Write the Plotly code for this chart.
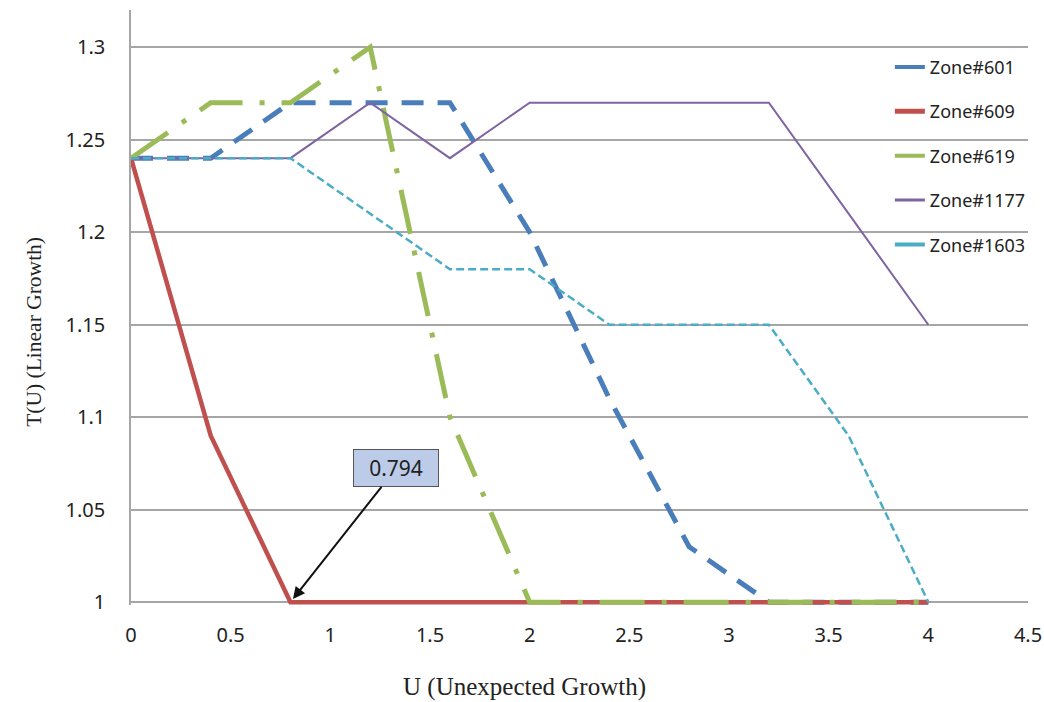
import plotly.graph_objects as go

# ---------------- data ----------------
u = [0, 0.4, 0.8, 1.2, 1.6, 2.0, 2.4, 2.8, 3.2, 3.6, 4.0]
zone601 = [1.24, 1.24, 1.27, 1.27, 1.27, 1.20, 1.11, 1.03, 1.00, 1.00, 1.00]
zone609 = [1.24, 1.09, 1.00, 1.00, 1.00, 1.00, 1.00, 1.00, 1.00, 1.00, 1.00]
zone619 = [1.24, 1.27, 1.27, 1.30, 1.10, 1.00, 1.00, 1.00, 1.00, 1.00, 1.00]
zone1177 = [1.24, 1.24, 1.24, 1.27, 1.24, 1.27, 1.27, 1.27, 1.27, 1.21, 1.15]
zone1603 = [1.24, 1.24, 1.24, 1.21, 1.18, 1.18, 1.15, 1.15, 1.15, 1.09, 1.00]

series_names = ["Zone#601", "Zone#609", "Zone#619", "Zone#1177", "Zone#1603"]
series_values = [zone601, zone609, zone619, zone1177, zone1603]

x_ticks = [0, 0.5, 1, 1.5, 2, 2.5, 3, 3.5, 4, 4.5]
x_tick_labels = ["0", "0.5", "1", "1.5", "2", "2.5", "3", "3.5", "4", "4.5"]
y_ticks = [1, 1.05, 1.1, 1.15, 1.2, 1.25, 1.3]
y_tick_labels = ["1", "1.05", "1.1", "1.15", "1.2", "1.25", "1.3"]

callout_label = "0.794"
callout_point = (0.8, 1.0)

# ---------------- styles ----------------
colors = ["#4A7EBB", "#C0504D", "#9BBB59", "#8064A2", "#4BACC6"]
widths = [5, 4.5, 5, 2, 2.5]
dashes = ["22px,14px", "solid", "45px,17px,5px,17px", "solid", "8px,4px"]
legend_widths = [4, 5, 4, 3, 4]

fig = go.Figure()

for name, vals, c, w, d in zip(series_names, series_values, colors, widths, dashes):
    fig.add_trace(go.Scatter(
        x=u, y=vals, mode="lines", name=name, showlegend=False,
        line=dict(color=c, width=w, dash=d),
        hoverinfo="x+y+name",
    ))

# legend entries (solid samples, as in the reference)
for i, (name, c, w) in enumerate(zip(series_names, colors, legend_widths)):
    fig.add_trace(go.Scatter(
        x=[None], y=[None], mode="lines", name=name, legendgroup=f"g{i}",
        line=dict(color=c, width=w),
    ))

grid_col = "#A6A6A6"
txt_col = "#222222"

fig.update_layout(
    width=1044, height=702,
    paper_bgcolor="white", plot_bgcolor="white",
    margin=dict(l=131, r=16, t=10, b=97, autoexpand=False),
    font=dict(family="Noto Sans", color=txt_col),
    showlegend=True,
    legend=dict(
        x=0.846, y=0.935, xanchor="left", yanchor="top",
        bgcolor="rgba(0,0,0,0)", borderwidth=0,
        font=dict(family="Noto Sans", size=18, color=txt_col),
        tracegroupgap=18,
    ),
    xaxis=dict(
        range=[0, 4.5], tickvals=x_ticks, ticktext=x_tick_labels,
        showgrid=False, zeroline=False, showline=False, ticks="",
        tickfont=dict(family="Noto Sans", size=20, color=txt_col),
        ticklabelstandoff=16,
    ),
    yaxis=dict(
        range=[0.9985, 1.3201], tickvals=y_ticks, ticktext=y_tick_labels,
        showgrid=True, gridcolor=grid_col, gridwidth=1.5,
        zeroline=False, showline=True, linecolor=grid_col, linewidth=1.5,
        ticks="", tickfont=dict(family="Noto Sans", size=20, color=txt_col),
        ticklabelstandoff=20,
    ),
    annotations=[
        dict(
            x=callout_point[0], y=callout_point[1], xref="x", yref="y",
            ax=1.33, ay=1.0724, axref="x", ayref="y",
            text=callout_label, showarrow=True,
            arrowhead=2, arrowsize=1.2, arrowwidth=2, arrowcolor="#111111",
            standoff=4,
            font=dict(family="Noto Sans", size=21, color=txt_col),
            bgcolor="#BCCBE8", bordercolor="#555555", borderwidth=1, borderpad=3,
            width=78, height=30,
        ),
        dict(
            x=0.439, y=-0.1378, xref="paper", yref="paper",
            text="U (Unexpected Growth)", showarrow=False,
            xanchor="center", yanchor="middle",
            font=dict(family="Liberation Serif", size=25, color=txt_col),
        ),
        dict(
            x=-0.109, y=0.4595, xref="paper", yref="paper",
            text="T(U) (Linear Growth)", showarrow=False, textangle=-90,
            xanchor="center", yanchor="middle",
            font=dict(family="Liberation Serif", size=21.5, color=txt_col),
        ),
    ],
)

fig.write_html("out.html", config={"displayModeBar": False},
               post_script="document.body.style.margin='0';")
